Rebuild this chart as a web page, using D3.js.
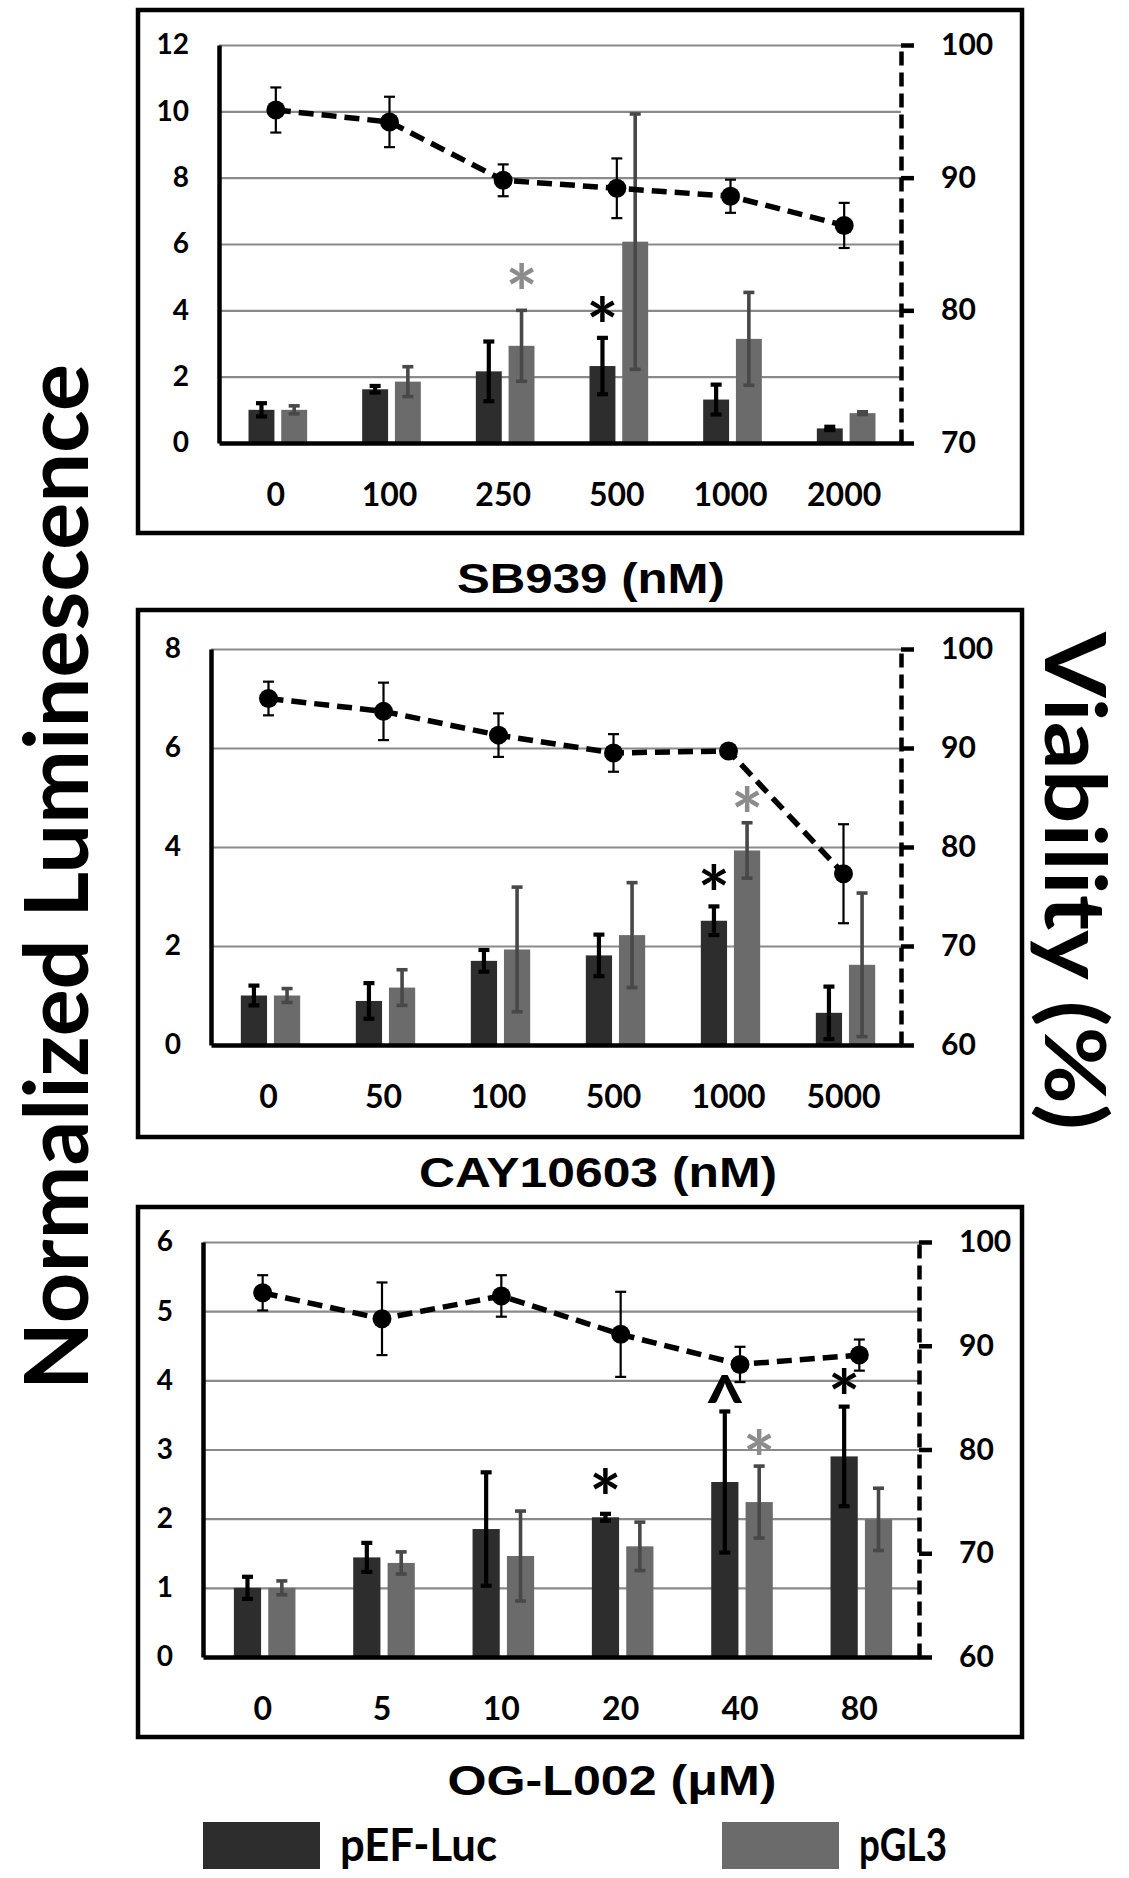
<!DOCTYPE html>
<html><head><meta charset="utf-8">
<script src="https://cdn.jsdelivr.net/npm/d3@7"></script>
<style>
html,body{margin:0;padding:0;background:#fff;}
svg{display:block;}
.tk text{font-family:Lato,"Open Sans",sans-serif;font-weight:700;fill:#000;}
</style></head>
<body>
<script>
// ---------------- DATA ----------------
const seriesNames = ["pEF-Luc", "pGL3"];

const cats1 = ["0","100","250","500","1000","2000"];
const pef1 = [1.00, 1.62, 2.16, 2.32, 1.31, 0.44];
const pefErr1 = [0.20, 0.10, 0.90, 0.85, 0.45, 0.05];
const gl1 = [1.00, 1.85, 2.93, 6.07, 3.14, 0.90];
const glErr1 = [0.12, 0.45, 1.07, 3.85, 1.40, 0.04];
const via1 = [95.1, 94.2, 89.8, 89.2, 88.6, 86.4];
const viaErr1 = [1.7, 1.9, 1.2, 2.25, 1.25, 1.7];
const leftTicks1 = [0,2,4,6,8,10,12];
const rightTicks1 = [70,80,90,100];
const title1 = "SB939 (nM)";

const cats2 = ["0","50","100","500","1000","5000"];
const pef2 = [1.00, 0.89, 1.70, 1.81, 2.51, 0.65];
const pefErr2 = [0.20, 0.36, 0.22, 0.42, 0.29, 0.53];
const gl2 = [1.00, 1.16, 1.93, 2.22, 3.93, 1.62];
const glErr2 = [0.14, 0.36, 1.26, 1.06, 0.56, 1.45];
const via2 = [95.0, 93.7, 91.3, 89.5, 89.7, 77.3];
const viaErr2 = [1.7, 2.9, 2.2, 1.9, 0.5, 5.0];
const leftTicks2 = [0,2,4,6,8];
const rightTicks2 = [60,70,80,90,100];
const title2 = "CAY10603 (nM)";

const cats3 = ["0","5","10","20","40","80"];
const pef3 = [1.00, 1.44, 1.85, 2.02, 2.53, 2.90];
const pefErr3 = [0.16, 0.21, 0.82, 0.05, 1.02, 0.72];
const gl3 = [1.00, 1.36, 1.46, 1.60, 2.24, 1.99];
const glErr3 = [0.10, 0.16, 0.65, 0.35, 0.52, 0.45];
const via3 = [95.1, 92.6, 94.8, 91.1, 88.2, 89.1];
const viaErr3 = [1.7, 3.5, 2.0, 4.1, 1.7, 1.5];
const leftTicks3 = [0,1,2,3,4,5,6];
const rightTicks3 = [60,70,80,90,100];
const title3 = "OG-L002 (\u03bcM)";

// significance marks: [category, series index, symbol, level on left axis]
const marks1 = [["250",1,"*",4.96],["500",0,"*",3.97]];
const marks2 = [["1000",0,"*",3.34],["1000",1,"*",4.93]];
const marks3 = [["20",0,"*",2.51],["40",0,"^",3.89],["80",0,"*",3.95],["40",1,"*",3.08]];

const yTitleLeft = "Normalized Luminescence";
const yTitleRight = "Viability (%)";

// ---------------- STYLE ----------------
const DARK = "#2d2d2d", GRAY = "#6b6b6b", GRAYERR = "#484848", GRID = "#8a8a8a";
const TICKFONT = "Lato, 'Open Sans', sans-serif";

const W = 1129, H = 1878;
const svg = d3.select("body").append("svg").attr("width", W).attr("height", H);

const panels = [
  {cats:cats1, pef:pef1, pefErr:pefErr1, gl:gl1, glErr:glErr1, via:via1, viaErr:viaErr1,
   lt:leftTicks1, rt:rightTicks1, title:title1, marks:marks1,
   frame:[138,10,1022,533], plot:[219,45,901,443], titlePos:[591,593,268]},
  {cats:cats2, pef:pef2, pefErr:pefErr2, gl:gl2, glErr:glErr2, via:via2, viaErr:viaErr2,
   lt:leftTicks2, rt:rightTicks2, title:title2, marks:marks2,
   frame:[138,610,1022,1137], plot:[211,649,901,1045], titlePos:[598,1187,358]},
  {cats:cats3, pef:pef3, pefErr:pefErr3, gl:gl3, glErr:glErr3, via:via3, viaErr:viaErr3,
   lt:leftTicks3, rt:rightTicks3, title:title3, marks:marks3,
   frame:[138,1207,1022,1737], plot:[203,1242,919,1657], titlePos:[612,1795,329]}
];

panels.forEach(p => {
  const [L,T,R,B] = p.plot;
  const g = svg.append("g");
  // frame
  g.append("rect").attr("x",p.frame[0]).attr("y",p.frame[1])
    .attr("width",p.frame[2]-p.frame[0]).attr("height",p.frame[3]-p.frame[1])
    .attr("fill","none").attr("stroke","#000").attr("stroke-width",4.5);

  const x = d3.scaleBand().domain(p.cats).range([L,R]);
  const bw = x.bandwidth();
  const yL = d3.scaleLinear().domain([0, d3.max(p.lt)]).range([B,T]);
  const yR = d3.scaleLinear().domain([d3.min(p.rt), d3.max(p.rt)]).range([B,T]);

  // gridlines
  const grid = g.append("g").attr("transform",`translate(${L},0)`)
    .call(d3.axisLeft(yL).tickValues(p.lt.filter(v=>v>0)).tickSize(-(R-L)).tickFormat(""));
  grid.select(".domain").remove();
  grid.selectAll("line").attr("stroke",GRID).attr("stroke-width",2.2);

  // bars
  const barW = bw*0.228, gap = bw*0.06;
  const xs = [c => x(c)+bw/2 - gap/2 - barW + 2, c => x(c)+bw/2 + gap/2 + 2];
  const series = [[p.pef,p.pefErr,DARK,"#000",4.2],[p.gl,p.glErr,GRAY,GRAYERR,3.6]];
  series.forEach(([vals,errs,col,ecol,ew],si) => {
    const bars = g.append("g");
    bars.selectAll("rect").data(p.cats).join("rect")
      .attr("x", c=>xs[si](c)).attr("width",barW)
      .attr("y",(c,i)=>yL(vals[i])).attr("height",(c,i)=>B-yL(vals[i]))
      .attr("fill",col);
    const eb = g.append("g").attr("stroke",ecol).attr("stroke-width",ew);
    p.cats.forEach((c,i)=>{
      const cx = xs[si](c)+barW/2;
      const y1 = yL(vals[i]+errs[i]), y2 = yL(Math.max(0,vals[i]-errs[i]));
      eb.append("line").attr("x1",cx).attr("x2",cx).attr("y1",y1).attr("y2",y2);
      eb.append("line").attr("x1",cx-5.5).attr("x2",cx+5.5).attr("y1",y1).attr("y2",y1);
      eb.append("line").attr("x1",cx-5.5).attr("x2",cx+5.5).attr("y1",y2).attr("y2",y2);
    });
  });

  // left axis
  const ax = g.append("g").attr("class","tk").attr("transform",`translate(${L},0)`)
    .call(d3.axisLeft(yL).tickValues(p.lt).tickSize(0).tickPadding(30).tickFormat(d3.format("d")));
  ax.select(".domain").attr("stroke","#000").attr("stroke-width",4.5);
  ax.selectAll("text").attr("font-size",28).attr("font-family",TICKFONT);

  // right axis
  const ar = g.append("g").attr("class","tk").attr("transform",`translate(${R},0)`)
    .call(d3.axisRight(yR).tickValues(p.rt).tickSize(13).tickSizeOuter(0).tickPadding(27));
  ar.select(".domain").attr("stroke","#000").attr("stroke-width",4.5).attr("stroke-dasharray","14,7");
  ar.selectAll("line").attr("stroke","#000").attr("stroke-width",4.5);
  ar.selectAll("text").attr("font-size",30).attr("font-family",TICKFONT);

  // bottom axis
  const ab = g.append("g").attr("class","tk").attr("transform",`translate(0,${B})`)
    .call(d3.axisBottom(x).tickSize(0).tickPadding(40));
  ab.select(".domain").attr("stroke","#000").attr("stroke-width",4.5);
  ab.selectAll("text").attr("font-size",32).attr("font-family",TICKFONT);

  // viability line
  const cx = c => x(c)+bw/2;
  const line = d3.line().x((d,i)=>cx(p.cats[i])).y(d=>yR(d));
  g.append("path").datum(p.via).attr("d",line).attr("fill","none")
    .attr("stroke","#000").attr("stroke-width",5.5).attr("stroke-dasharray","15,8");
  const ve = g.append("g").attr("stroke","#000").attr("stroke-width",2.2);
  p.via.forEach((v,i)=>{
    const xx = cx(p.cats[i]);
    const y1 = yR(v+p.viaErr[i]), y2 = yR(v-p.viaErr[i]);
    ve.append("line").attr("x1",xx).attr("x2",xx).attr("y1",y1).attr("y2",y2);
    ve.append("line").attr("x1",xx-5.5).attr("x2",xx+5.5).attr("y1",y1).attr("y2",y1);
    ve.append("line").attr("x1",xx-5.5).attr("x2",xx+5.5).attr("y1",y2).attr("y2",y2);
  });
  g.append("g").selectAll("circle").data(p.via).join("circle")
    .attr("cx",(d,i)=>cx(p.cats[i])).attr("cy",d=>yR(d)).attr("r",9.5).attr("fill","#000");

  // significance marks
  p.marks.forEach(([c,si,sym,lvl])=>{
    const fs = sym==="^" ? 72 : 76;
    g.append("text").attr("x", xs[si](c)+barW/2).attr("y", yL(lvl)+fs*0.56)
      .attr("text-anchor","middle").attr("font-family",TICKFONT).attr("font-weight",700)
      .attr("font-size",fs).attr("fill", si===0 ? "#000" : "#8c8c8c").text(sym);
  });

  // panel title
  g.append("text").attr("x",p.titlePos[0]).attr("y",p.titlePos[1]).attr("text-anchor","middle")
    .attr("font-family","'Liberation Sans', Arial, sans-serif").attr("font-weight",700)
    .attr("font-size",43).attr("textLength",p.titlePos[2]).attr("lengthAdjust","spacingAndGlyphs")
    .text(p.title);
});

// axis titles
svg.append("text").attr("transform","translate(88,877) rotate(-90)").attr("text-anchor","middle")
  .attr("font-family",TICKFONT).attr("font-weight",700).attr("font-size",88)
  .attr("textLength",1026).attr("lengthAdjust","spacingAndGlyphs").text(yTitleLeft);
svg.append("text").attr("transform","translate(1045,881) rotate(90)").attr("text-anchor","middle")
  .attr("font-family",TICKFONT).attr("font-weight",700).attr("font-size",84)
  .attr("textLength",498).attr("lengthAdjust","spacingAndGlyphs").text(yTitleRight);

// legend
const legX = [203, 722], legTextX = [340, 859], legW = [157, 88];
const legColors = [DARK, GRAY];
const leg = svg.append("g");
seriesNames.forEach((n,i)=>{
  leg.append("rect").attr("x",legX[i]).attr("y",1822).attr("width",117).attr("height",47).attr("fill",legColors[i]);
  leg.append("text").attr("x",legTextX[i]).attr("y",1861).attr("font-family",TICKFONT)
    .attr("font-weight",700).attr("font-size",46).attr("textLength",legW[i])
    .attr("lengthAdjust","spacingAndGlyphs").text(n);
});
</script>
</body></html>
